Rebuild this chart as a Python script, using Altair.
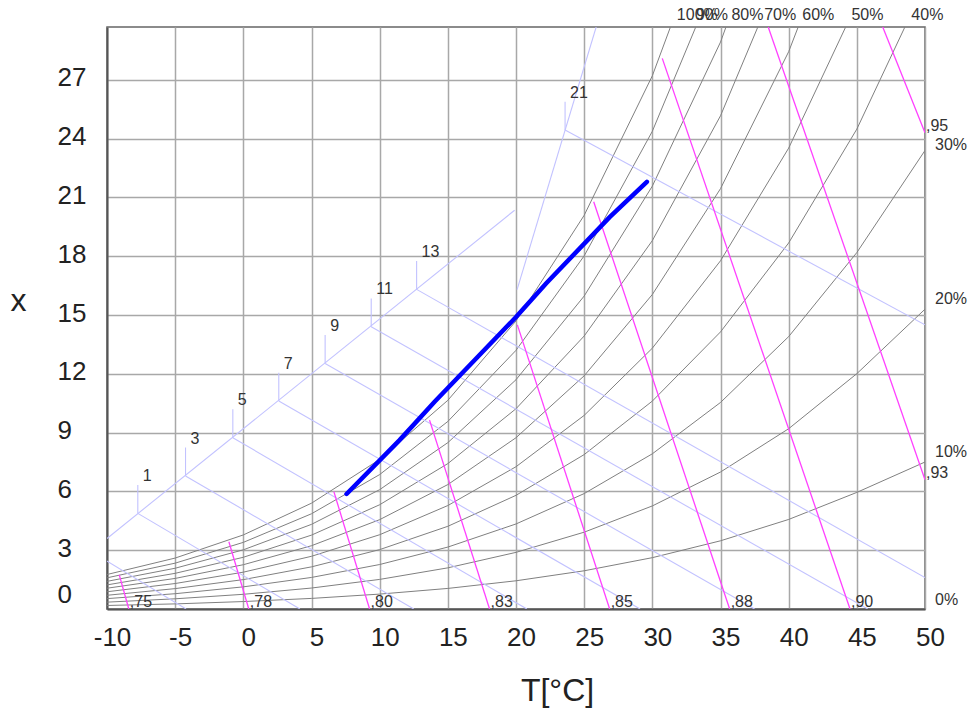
import altair as alt
import pandas as pd

# ---------------- data ----------------
T_grid = [-10, -5, 0, 5, 10, 15, 20, 25, 30, 35, 40, 45, 50]
rh_names = ["100%", "90%", "80%", "70%", "60%", "50%", "40%", "30%", "20%", "10%"]
rh100 = [1.76, 2.60, 3.78, 5.40, 7.63, 10.65, 14.70, 20.09, 27.21, 36.58, 48.89, 65.06, 86.35]
rh90 = [1.59, 2.34, 3.40, 4.86, 6.86, 9.57, 13.20, 18.02, 24.38, 32.73, 43.66, 57.95, 76.65]
rh80 = [1.41, 2.08, 3.02, 4.32, 6.09, 8.49, 11.70, 15.97, 21.58, 28.93, 38.51, 50.98, 67.21]
rh70 = [1.23, 1.82, 2.64, 3.77, 5.32, 7.42, 10.22, 13.93, 18.80, 25.17, 33.44, 44.15, 58.03]
rh60 = [1.06, 1.56, 2.26, 3.23, 4.56, 6.35, 8.74, 11.90, 16.05, 21.45, 28.44, 37.47, 49.08]
rh50 = [0.88, 1.30, 1.88, 2.69, 3.79, 5.28, 7.26, 9.88, 13.31, 17.77, 23.52, 30.91, 40.37]
rh40 = [0.70, 1.04, 1.50, 2.15, 3.03, 4.22, 5.80, 7.88, 10.61, 14.14, 18.68, 24.49, 31.88]
rh30 = [0.53, 0.78, 1.13, 1.61, 2.27, 3.16, 4.34, 5.89, 7.92, 10.54, 13.90, 18.19, 23.40]
rh20 = [0.35, 0.52, 0.75, 1.07, 1.51, 2.10, 2.89, 3.92, 5.26, 6.99, 9.20, 12.01, 15.30]
rh10 = [0.18, 0.26, 0.38, 0.54, 0.76, 1.05, 1.44, 1.95, 2.62, 3.48, 4.57, 5.95, 7.50]
rh_series = [rh100, rh90, rh80, rh70, rh60, rh50, rh40, rh30, rh20, rh10]

# relative-humidity labels
rh_top_labels = ["100%", "90%", "80%", "70%", "60%", "50%", "40%"]
rh_top_T = [31.8, 33.2, 35.8, 38.2, 41.0, 44.6, 49.0]
rh_right_labels = ["30%", "20%", "10%", "0%"]
rh_right_x = [23.7, 15.8, 8.0, 0.45]

# specific-volume lines (m3/kg)
v_labels = [",75", ",78", ",80", ",83", ",85", ",88", ",90", ",93", ",95"]
v_top_T = [-9.10, -1.06, 6.64, 13.66, 20.10, 25.70, 30.73, 38.50, 46.90]
v_top_x = [1.74, 3.43, 5.99, 9.64, 14.50, 20.78, 28.10, 29.70, 29.70]
v_bot_T = [-8.40, 0.40, 9.26, 18.06, 26.87, 35.67, 44.50, 50.0, 50.0]
v_bot_x = [0.0, 0.0, 0.0, 0.0, 0.0, 0.0, 0.0, 6.6, 24.3]

# enthalpy scale (kcal/kg)
h_labels = ["1", "3", "5", "7", "9", "11", "13", "21"]
h_junc_T = [-7.74, -4.24, -0.77, 2.60, 6.00, 9.38, 12.71, 23.60]
h_junc_x = [4.88, 6.79, 8.74, 10.61, 12.53, 14.40, 16.31, 24.44]
h_end_T = [4.15, 12.5, 20.8, 29.1, 37.5, 45.8, 50.0, 50.0]
h_end_x = [0.0, 0.0, 0.0, 0.0, 0.0, 0.0, 1.6, 14.5]
h_stub = 1.45
# unlabeled isenthalp (-1) and the enthalpy scale axis pieces
extra_T1 = [-11.19, -10.0, 20.08]
extra_x1 = [2.95, 3.60, 16.30]
extra_T2 = [-4.20, 19.90, 25.88]
extra_x2 = [0.0, 20.35, 29.70]

# process line
proc_T = [7.57, 11.46, 14.03, 17.20, 20.02, 22.22, 26.87, 29.60]
proc_x = [5.87, 8.62, 10.58, 12.87, 14.91, 16.62, 20.00, 21.80]

X_DOM = [-10, 50]
Y_DOM = [0, 29.7]

# ---------------- tables ----------------
rows = []
for name, vals in zip(rh_names, rh_series):
    for t, v in zip(T_grid, vals):
        rows.append({"curve": name, "T": t, "x": v})
rh_df = pd.DataFrame(rows)

rh_top_df = pd.DataFrame({"label": rh_top_labels, "T": rh_top_T, "x": [Y_DOM[1]] * len(rh_top_T)})
rh_right_df = pd.DataFrame({"label": rh_right_labels, "T": [X_DOM[1]] * len(rh_right_x), "x": rh_right_x})

v_df = pd.DataFrame({"label": v_labels, "T1": v_top_T, "x1": v_top_x, "T2": v_bot_T, "x2": v_bot_x})

h_df = pd.DataFrame({"label": h_labels, "T1": h_junc_T, "x1": h_junc_x, "T2": h_end_T, "x2": h_end_x})
h_df["xs"] = h_df["x1"] + h_stub
extra_df = pd.DataFrame({"T1": extra_T1, "x1": extra_x1, "T2": extra_T2, "x2": extra_x2})

proc_df = pd.DataFrame({"T": proc_T, "x": proc_x})

# ---------------- chart ----------------
FONT = "Liberation Sans"
xs = alt.Scale(domain=X_DOM, nice=False, zero=False)
ys = alt.Scale(domain=Y_DOM, nice=False, zero=False)

x_axis = alt.Axis(
    values=list(range(-10, 51, 5)), title="T[°C]", grid=True, ticks=False, tickSize=0,
    labelFontSize=26, labelFont=FONT, labelColor="#222", labelPadding=15,
    labelFlush=False, labelOffset=5, labelExpr="'' + datum.value",
    titleFont=FONT, titleFontSize=32, titleFontWeight="normal", titleColor="#222",
    titleX=450, titleY=81, titleBaseline="middle", titleAlign="center",
)
y_axis = alt.Axis(
    values=list(range(0, 28, 3)), title="x", grid=True, ticks=False, tickSize=0,
    labelFontSize=26, labelFont=FONT, labelColor="#222", labelPadding=50,
    labelAlign="left", labelFlush=True, labelOffset=-2,
    titleFont=FONT, titleFontSize=32, titleFontWeight="normal", titleColor="#222",
    titleAngle=0, titleX=-89, titleY=273, titleBaseline="middle", titleAlign="center",
)

rh_lines = alt.Chart(rh_df).mark_line(color="#808080", strokeWidth=1, clip=True).encode(
    x=alt.X("T:Q", scale=xs, axis=x_axis),
    y=alt.Y("x:Q", scale=ys, axis=y_axis),
    detail="curve:N",
)

lav = "#c2c2ff"
h_lines = alt.Chart(h_df).mark_rule(color=lav, strokeWidth=1.1, clip=True).encode(
    x=alt.X("T1:Q", scale=xs), y=alt.Y("x1:Q", scale=ys), x2="T2:Q", y2="x2:Q"
)
h_stubs = alt.Chart(h_df).mark_rule(color=lav, strokeWidth=1.1, clip=True).encode(
    x=alt.X("T1:Q", scale=xs), y=alt.Y("x1:Q", scale=ys), y2="xs:Q"
)
h_extra = alt.Chart(extra_df).mark_rule(color=lav, strokeWidth=1.1, clip=True).encode(
    x=alt.X("T1:Q", scale=xs), y=alt.Y("x1:Q", scale=ys), x2="T2:Q", y2="x2:Q"
)
h_text = alt.Chart(h_df).mark_text(
    align="left", baseline="alphabetic", dx=5, dy=-4, fontSize=16, font=FONT, color="#333"
).encode(x=alt.X("T1:Q", scale=xs), y=alt.Y("xs:Q", scale=ys), text="label:N")

v_lines = alt.Chart(v_df).mark_rule(color="#ff40ff", strokeWidth=1.3, clip=True).encode(
    x=alt.X("T1:Q", scale=xs), y=alt.Y("x1:Q", scale=ys), x2="T2:Q", y2="x2:Q"
)
v_text = alt.Chart(v_df).mark_text(
    align="left", baseline="alphabetic", dx=1, dy=-2, fontSize=16, font=FONT, color="#333"
).encode(x=alt.X("T2:Q", scale=xs), y=alt.Y("x2:Q", scale=ys), text="label:N")

proc = alt.Chart(proc_df).mark_line(color="#0000ff", strokeWidth=4.5, strokeCap="round", clip=True).encode(
    x=alt.X("T:Q", scale=xs), y=alt.Y("x:Q", scale=ys)
)

rh_top_text = alt.Chart(rh_top_df).mark_text(
    align="left", baseline="middle", dy=-12, fontSize=16, font=FONT, color="#333"
).encode(x=alt.X("T:Q", scale=xs), y=alt.Y("x:Q", scale=ys), text="label:N")
rh_right_text = alt.Chart(rh_right_df).mark_text(
    align="left", baseline="middle", dx=10, fontSize=16, font=FONT, color="#333"
).encode(x=alt.X("T:Q", scale=xs), y=alt.Y("x:Q", scale=ys), text="label:N")

chart = alt.layer(
    rh_lines, h_extra, h_lines, h_stubs, v_lines, proc,
    h_text, v_text, rh_top_text, rh_right_text,
).properties(
    width=818, height=582,
    padding={"left": 107, "top": 27, "right": 48, "bottom": 104},
    autosize=alt.AutoSizeParams(type="none"),
    background="white",
).configure_view(
    stroke="#666", strokeWidth=1.5
).configure_axis(
    gridColor="#a8a8a8", gridWidth=1.5, domainColor="#555", domainWidth=2
)

chart.save("out.html", embed_options={"renderer": "svg", "actions": False})
